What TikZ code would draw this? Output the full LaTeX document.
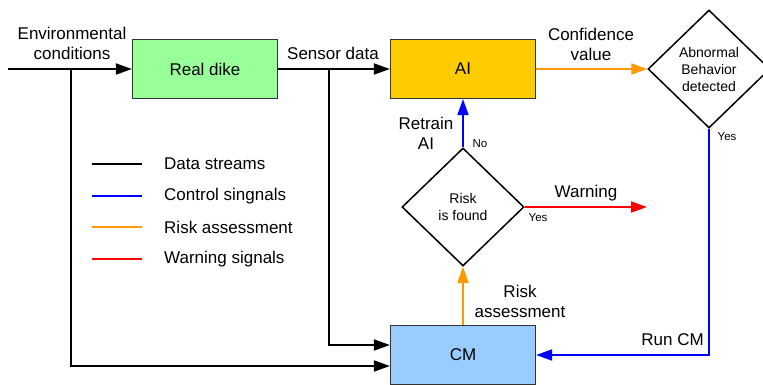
\documentclass[tikz,border=0pt]{standalone}
\usepackage{fontspec}
\setmainfont{Liberation Sans}
\usetikzlibrary{arrows.meta,shapes.geometric}
\definecolor{dikegreen}{HTML}{99FF99}
\definecolor{aiyellow}{HTML}{FFCC00}
\definecolor{cmblue}{HTML}{99CCFF}
\definecolor{riskorange}{HTML}{FF9900}
\begin{document}
\begin{tikzpicture}
[x=1pt,y=-1pt,
 box/.style={rectangle,draw=black!80,line width=1.2pt,minimum width=145pt,minimum height=59pt,font=\fontsize{17}{20}\selectfont},
 dia/.style={diamond,draw=black,line width=1.5pt,inner sep=0pt,minimum width=122pt,minimum height=118pt,align=center,font=\fontsize{14}{17}\selectfont},
 lbl/.style={align=center,inner sep=0pt,font=\fontsize{17}{20}\selectfont},
 sml/.style={inner sep=0pt,font=\fontsize{11.5}{13}\selectfont},
 ln/.style={line width=1.8pt},
 arr/.style={ln,-{Triangle[length=16pt,width=11pt]}},
 ctl/.style={draw=blue,color=blue},
 rsk/.style={draw=riskorange,color=riskorange},
 wrn/.style={draw=red,color=red}]
\useasboundingbox (0,0) rectangle (763,384);
\node[box,fill=dikegreen] (dike) at (205,69) {Real dike};
\node[box,fill=aiyellow] (ai) at (463,69) {AI};
\node[box,fill=cmblue] (cm) at (463,355) {CM};
\node[dia] (abn) at (709,69) {Abnormal\\Behavior\\detected};
\node[dia] (risk) at (463,207) {Risk\\is found};
\coordinate (in) at (8,69);
\coordinate (j1) at (71,69);
\coordinate (j2) at (329,69);
\coordinate (warn) at (647,207);
\node[lbl] (env) at (72,43.5) {Environmental\\conditions};
\node[lbl] (sens) at (333,53) {Sensor data};
\node[lbl] (conf) at (591,44) {Confidence\\value};
\node[lbl] (retr) at (426,133) {Retrain\\AI};
\node[lbl] (wtxt) at (586,193) {Warning};
\node[lbl] (rtxt) at (520,301) {Risk\\assessment};
\node[lbl,anchor=east] (run) at (704,340) {Run CM};
\node[sml] (no) at (480,144) {No};
\node[sml] (yes1) at (538,218) {Yes};
\node[sml] (yes2) at (727,137) {Yes};
\draw[arr] (in) -- (dike);
\draw[arr] (dike) -- (ai);
\draw[arr] (j1) |- ([yshift=-11pt]cm.west);
\draw[arr] (j2) |- ([yshift=10pt]cm.west);
\draw[arr,rsk] (ai) -- (abn);
\draw[arr,ctl] (abn.south) |- (cm.east);
\draw[arr,rsk] (cm) -- (risk);
\draw[arr,ctl] (risk) -- (ai);
\draw[arr,wrn] (risk.east) -- (warn);
\coordinate (l1a) at (92,164);
\coordinate (l1b) at (142,164);
\coordinate (l2a) at (92,196);
\coordinate (l2b) at (142,196);
\coordinate (l3a) at (92,227);
\coordinate (l3b) at (142,227);
\coordinate (l4a) at (92,259);
\coordinate (l4b) at (142,259);
\draw[ln] (l1a) -- (l1b);
\draw[ln,ctl] (l2a) -- (l2b);
\draw[ln,rsk] (l3a) -- (l3b);
\draw[ln,wrn] (l4a) -- (l4b);
\node[lbl,anchor=west] (leg1) at (164,164) {Data streams};
\node[lbl,anchor=west] (leg2) at (164,196) {Control singnals};
\node[lbl,anchor=west] (leg3) at (164,227) {Risk assessment};
\node[lbl,anchor=west] (leg4) at (164,259) {Warning signals};
\end{tikzpicture}
\end{document}
